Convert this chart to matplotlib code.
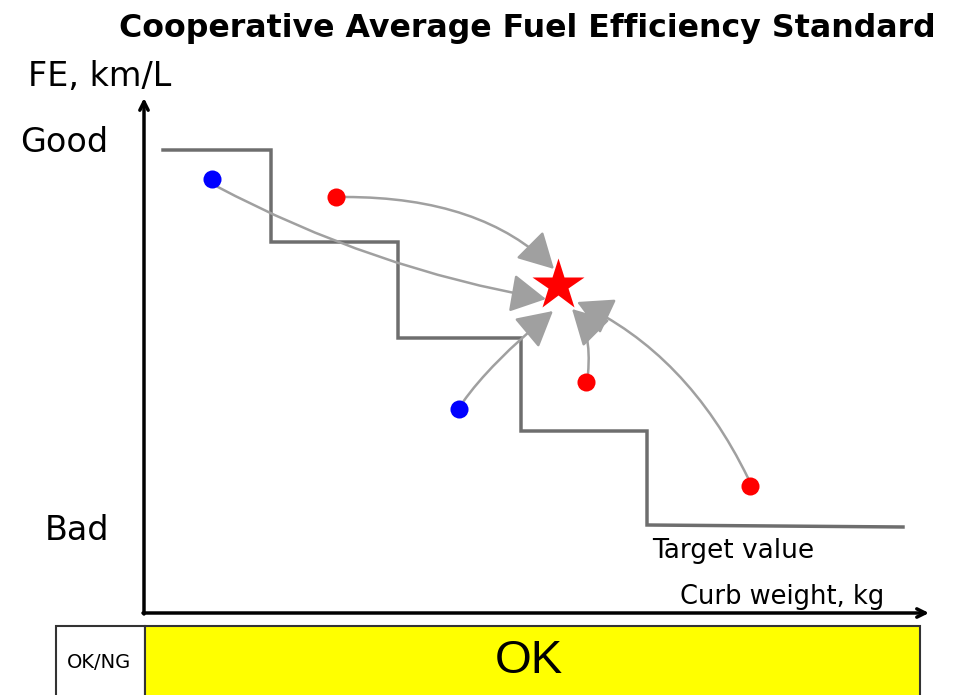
import matplotlib
matplotlib.use("Agg")
import matplotlib.pyplot as plt
from matplotlib.patches import FancyArrowPatch, Rectangle

plt.rcParams['font.family'] = ['DejaVu Sans']

# ---- data (schematic units: x = curb weight position, y = fuel-efficiency position, drawn top-down) ----
step_x = [163, 271, 271, 398, 398, 521, 521, 647, 647, 903]
step_y = [150, 150, 242, 242, 338, 338, 431, 431, 525, 527]

blue_x = [212, 459]
blue_y = [179, 409]
red_x = [336, 586, 750]
red_y = [197, 382, 486]
star_x, star_y = 558, 285

# arrows: (start_x, start_y, end_x, end_y, connection style)
arrows = [
    (216, 186, 546, 299, "arc3,rad=0.08"),
    (345, 197, 554, 269, "angle3,angleA=0,angleB=-45"),
    (463, 402, 553, 311, "angle3,angleA=55,angleB=40"),
    (588, 374, 572, 309, "angle3,angleA=85,angleB=135"),
    (748, 478, 577, 302, "angle3,angleA=116,angleB=155"),
]

title = "Cooperative Average Fuel Efficiency Standard"
y_label = "FE, km/L"
x_label = "Curb weight, kg"
good_label, bad_label = "Good", "Bad"
target_label = "Target value"
status_header, status_value = "OK/NG", "OK"

fig = plt.figure(figsize=(9.56, 6.95), dpi=100)
ax = fig.add_axes([0, 0, 1, 1])
ax.set_xlim(0, 956)
ax.set_ylim(695, 0)
ax.axis('off')

# title & labels
ax.text(527, 29, title, ha='center', va='center', fontsize=22.8, fontweight='bold')
ax.text(28, 77, y_label, ha='left', va='center', fontsize=24)
ax.text(20, 142, good_label, ha='left', va='center', fontsize=24)
ax.text(45, 530, bad_label, ha='left', va='center', fontsize=24)
ax.text(652, 551, target_label, ha='left', va='center', fontsize=19)
ax.text(680, 597, x_label, ha='left', va='center', fontsize=18.5)

# axes arrows
ax.annotate("", xy=(144, 98), xytext=(144, 614),
            arrowprops=dict(arrowstyle="->,head_length=0.6,head_width=0.3",
                            lw=2.5, color='black', shrinkA=0, shrinkB=0))
ax.annotate("", xy=(929, 613), xytext=(143, 613),
            arrowprops=dict(arrowstyle="->,head_length=0.6,head_width=0.3",
                            lw=2.5, color='black', shrinkA=0, shrinkB=0))

# target step line
ax.plot(step_x, step_y, color='#6e6e6e', lw=2.5, solid_joinstyle='miter', zorder=2)

# curved arrows
for sx, sy, ex, ey, cs in arrows:
    p = FancyArrowPatch((sx, sy), (ex, ey), connectionstyle=cs,
                        arrowstyle="-|>,head_length=1.1,head_width=0.6",
                        mutation_scale=20, color='#a0a0a0', lw=1.8,
                        shrinkA=0, shrinkB=0, zorder=3)
    ax.add_patch(p)

# points
ax.plot(blue_x, blue_y, 'o', color='#0000ff', ms=13, mec='none', zorder=4)
ax.plot(red_x, red_y, 'o', color='#ff0000', ms=13, mec='none', zorder=4)
ax.plot([star_x], [star_y], '*', color='#ff0000', ms=39, mec='none', zorder=5)

# bottom status bar
ax.add_patch(Rectangle((56, 626), 89, 80, facecolor='white', edgecolor='#333333', lw=1.5, zorder=1))
ax.add_patch(Rectangle((145, 626), 775, 80, facecolor='#ffff00', edgecolor='#333333', lw=1.5, zorder=1))
ax.text(99, 662, status_header, ha='center', va='center', fontsize=14)
ax.text(529, 661, status_value, ha='center', va='center', fontsize=34,
        family=['Liberation Sans', 'DejaVu Sans'])

fig.savefig("out.png", dpi=100)
